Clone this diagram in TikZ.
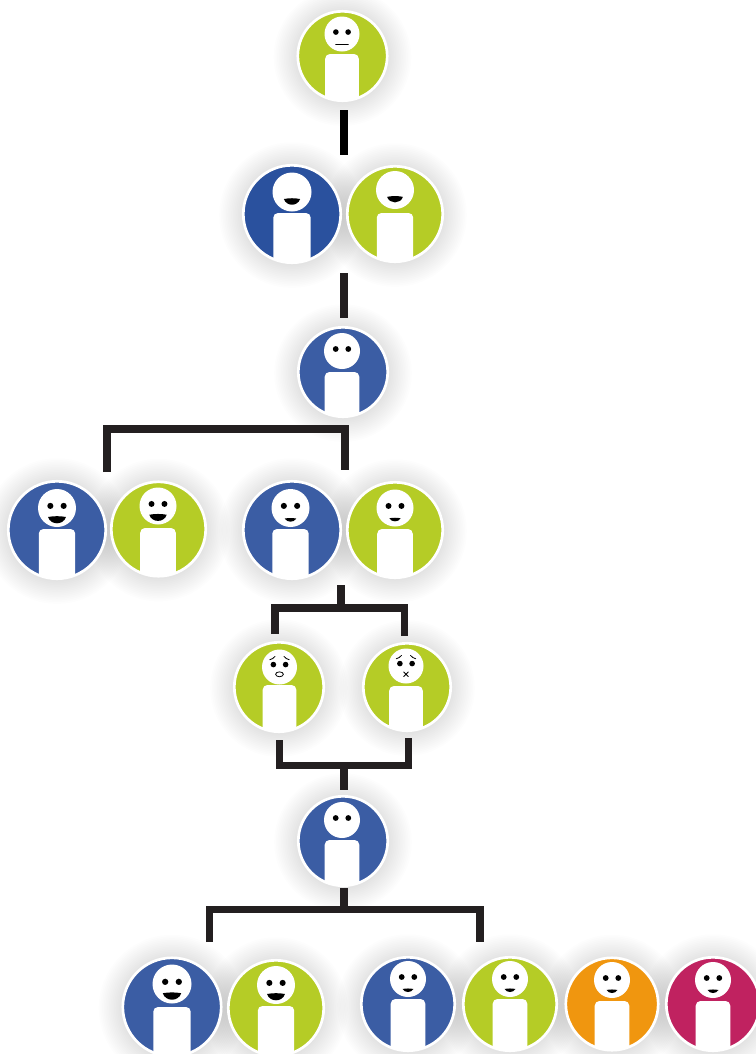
\documentclass[tikz,border=0pt]{standalone}
\usetikzlibrary{backgrounds}

\definecolor{blueA}{HTML}{3B5DA4}
\definecolor{blueB}{HTML}{2A519E}
\definecolor{greenA}{HTML}{B5CC26}
\definecolor{orangeA}{HTML}{F0960F}
\definecolor{redA}{HTML}{C02260}
\definecolor{barA}{HTML}{231F20}

\tikzset{
    disc/.style={circle, draw=white, line width=2pt, inner sep=0pt, outer sep=0pt},
    bar/.style={draw=barA, line width=5.6pt, line cap=butt, line join=miter},
    thin mark/.style={draw=black, line width=.6pt, line cap=round},
}

% mouths and eyes, drawn for a head of radius 18
\newcommand{\eyes}{
    \fill (-6.3,-2) circle (2.9) (6.3,-2) circle (2.9);
}
\newcommand{\faceflat}{\eyes \draw[thin mark] (-6.5,10.5)--(6.5,10.5);}
\newcommand{\facewide}{
    \fill (-7.5,6.5) .. controls (-3,5.5) and (3,5.5) .. (7.5,6.5) .. controls (5,13.5) and (-5,13.5) .. cycle;
}
\newcommand{\facejoy}{\eyes
    \fill (-8.5,8.5) .. controls (-3,7.5) and (3,7.5) .. (8.5,8.5) .. controls (6,16.5) and (-6,16.5) .. cycle;
}
\newcommand{\facesmile}{\eyes
    \fill (-5.5,10) .. controls (-2,9.3) and (2,9.3) .. (5.5,10) .. controls (3,14) and (-3,14) .. cycle;
}
\newcommand{\brows}{
    \draw[thin mark] (-10,-7.5) .. controls (-8,-8) and (-6,-9) .. (-4.5,-11);
    \draw[thin mark] (10,-7.5) .. controls (8,-8) and (6,-9) .. (4.5,-11);
    \fill (-6.3,-2.5) circle (2.9) (6.3,-2.5) circle (2.9);
}
\newcommand{\faceoh}{\brows \draw[thin mark] (0,7.5) ellipse (4 and 2.5);}
\newcommand{\facecross}{\brows
    \draw[thin mark] (-2.5,6)--(2.5,11) (-2.5,11)--(2.5,6);
}

% name, centre, radius, colour, head centre, head radius, top of body, face
\newcommand{\person}[8]{
    \begin{scope}[on background layer]
        \foreach \k in {1,...,14}
        {
            \fill[black, opacity=.007] ([yshift=-.8pt]#2) circle ({#3-1+1.7*\k});
        }
    \end{scope}
    \node[disc, fill=#4, minimum size={(#3-1.3)*1.5pt}] (#1) at (#2) {};
    \begin{scope}
        \clip (#2) circle (#3-1.3);
        \fill[white, rounded corners=3.5pt] ([xshift={-#6*.72pt}]#5 |- 0,#7) rectangle ([xshift={#6*.72pt}]#5 |- 0,1100);
    \end{scope}
    \fill[white] (#5) circle (#6);
    \begin{scope}[shift={(#5)}, scale={#6/18}]
        #8
    \end{scope}
}

\begin{document}
\begin{tikzpicture}[x=.75pt, y=-.75pt]

    \useasboundingbox (0,0) rectangle (756,1054);

    \person{top}{342.5,56}{46}{greenA}{342,34}{17.5}{54}{\faceflat}

    \person{pairB}{292,214}{50}{blueB}{292,192}{19.5}{213}{\facewide}
    \person{pairG}{395,214}{49}{greenA}{395,190}{19}{213}{\facewide}

    \person{mid}{343,372}{46}{blueA}{342,351}{18}{372}{\eyes}

    \person{leftB}{57,530}{50}{blueA}{57,508}{19}{529}{\facejoy}
    \person{leftG}{158.5,529}{48.5}{greenA}{158,506}{18.5}{528}{\facejoy}
    \person{rightB}{292,530}{50}{blueA}{290.5,508}{19}{529}{\facesmile}
    \person{rightG}{395,530}{49}{greenA}{395,508}{18.5}{529}{\facesmile}

    \person{sadA}{279,687}{46}{greenA}{279.5,667}{17.5}{685}{\faceoh}
    \person{sadB}{407,687}{45}{greenA}{406,666}{17.5}{686}{\facecross}

    \person{low}{343,841}{46}{blueA}{342,820}{18}{840}{\eyes}

    \person{endA}{172,1007}{50.5}{blueA}{172,984}{19.5}{1007}{\facejoy}
    \person{endB}{276,1008}{49}{greenA}{276,985}{19}{1006}{\facejoy}
    \person{endC}{408,1004}{48}{blueA}{408,979}{18}{999}{\facesmile}
    \person{endD}{510,1004}{48}{greenA}{510,979}{18}{999}{\facesmile}
    \person{endE}{612,1004}{47.5}{orangeA}{612,980}{18}{1001}{\facesmile}
    \person{endF}{713,1004}{48}{redA}{713,980}{18}{1001}{\facesmile}

    \coordinate (a1) at (344,110); \coordinate (a2) at (344,155);
    \coordinate (b1) at (344,273); \coordinate (b2) at (344,318);

    \coordinate (c1) at (107,472); \coordinate (c2) at (107,429);
    \coordinate (c3) at (345,429); \coordinate (c4) at (345,470);

    \coordinate (d0) at (341,585); \coordinate (d5) at (341,608);
    \coordinate (d1) at (275,634); \coordinate (d2) at (275,608);
    \coordinate (d3) at (404.5,608); \coordinate (d4) at (404.5,636);

    \coordinate (e1) at (279.5,740); \coordinate (e2) at (279.5,765.5);
    \coordinate (e3) at (408.5,765.5); \coordinate (e4) at (408.5,738);
    \coordinate (e5) at (344,765.5); \coordinate (e0) at (344,790);

    \coordinate (f1) at (209.5,942); \coordinate (f2) at (209.5,909.5);
    \coordinate (f3) at (480,909.5); \coordinate (f4) at (480,942);
    \coordinate (f5) at (344,909.5); \coordinate (f0) at (344,888);

    \draw[bar, draw=black] (a1)--(a2);
    \draw[bar] (b1)--(b2);
    \draw[bar] (c1)--(c2)--(c3)--(c4);
    \draw[bar] (d1)--(d2)--(d3)--(d4);
    \draw[bar] (d0)--(d5);
    \draw[bar] (e1)--(e2)--(e3)--(e4);
    \draw[bar] (e5)--(e0);
    \draw[bar] (f1)--(f2)--(f3)--(f4);
    \draw[bar] (f5)--(f0);

\end{tikzpicture}
\end{document}
